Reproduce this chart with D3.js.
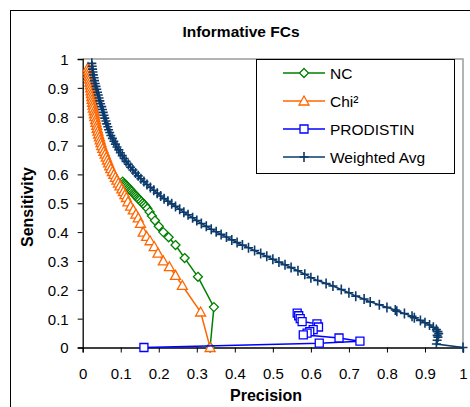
<!DOCTYPE html>
<html>
<head>
<meta charset="utf-8">
<script src="https://cdn.jsdelivr.net/npm/d3@7"></script>
<style>
  body { margin: 0; background: #fff; }
  text { font-family: Arial, "Liberation Sans", sans-serif; }
</style>
</head>
<body>
<svg id="chart" width="470" height="407"></svg>
<script>
// [precision, sensitivity]
const nc = [
  [0.105, 0.575], [0.108, 0.570], [0.111, 0.566], [0.114, 0.562], [0.117, 0.558],
  [0.120, 0.553], [0.123, 0.549], [0.126, 0.545], [0.129, 0.541], [0.132, 0.536],
  [0.135, 0.532], [0.138, 0.528], [0.141, 0.524], [0.144, 0.519], [0.147, 0.515],
  [0.150, 0.511], [0.154, 0.506], [0.158, 0.500], [0.162, 0.495], [0.166, 0.489],
  [0.170, 0.482], [0.176, 0.470], [0.182, 0.456], [0.190, 0.440], [0.200, 0.420],
  [0.212, 0.400], [0.226, 0.382], [0.244, 0.355], [0.268, 0.310], [0.303, 0.245],
  [0.345, 0.140], [0.335, 0.0]
];
const chi2 = [
  [0.014, 0.97], [0.015, 0.96], [0.016, 0.95], [0.017, 0.94], [0.018, 0.93],
  [0.019, 0.92], [0.020, 0.91], [0.021, 0.90], [0.022, 0.89], [0.023, 0.88],
  [0.024, 0.87], [0.025, 0.86], [0.026, 0.85], [0.027, 0.84], [0.028, 0.83],
  [0.030, 0.82], [0.031, 0.81], [0.032, 0.80], [0.034, 0.79], [0.035, 0.78],
  [0.037, 0.77], [0.038, 0.76], [0.040, 0.75], [0.042, 0.74], [0.044, 0.73],
  [0.046, 0.72], [0.048, 0.71], [0.050, 0.70], [0.053, 0.69], [0.056, 0.68],
  [0.059, 0.67], [0.062, 0.66], [0.065, 0.65], [0.068, 0.64], [0.071, 0.63],
  [0.074, 0.62], [0.078, 0.61], [0.082, 0.60], [0.086, 0.59], [0.090, 0.58],
  [0.094, 0.57], [0.098, 0.56], [0.103, 0.55], [0.107, 0.54], [0.111, 0.53],
  [0.115, 0.52], [0.119, 0.505], [0.126, 0.49], [0.133, 0.477], [0.140, 0.462],
  [0.146, 0.449], [0.152, 0.43], [0.159, 0.40], [0.168, 0.385], [0.177, 0.37],
  [0.188, 0.35], [0.198, 0.327], [0.212, 0.30], [0.228, 0.28], [0.244, 0.25],
  [0.262, 0.215], [0.310, 0.123], [0.335, 0.0]
];
const prodistin = [
  [0.564, 0.119], [0.568, 0.110], [0.572, 0.100], [0.577, 0.090], [0.616, 0.082],
  [0.620, 0.071], [0.606, 0.062], [0.597, 0.055], [0.590, 0.050], [0.580, 0.044],
  [0.674, 0.033], [0.729, 0.022], [0.622, 0.015], [0.161, 0.0]
];
const weightedAvg = [
  [0.024, 0.985], [0.025, 0.975], [0.026, 0.965], [0.027, 0.955], [0.028, 0.945],
  [0.030, 0.935], [0.031, 0.925], [0.033, 0.915], [0.035, 0.905], [0.037, 0.895],
  [0.039, 0.885], [0.041, 0.875], [0.043, 0.865], [0.045, 0.855], [0.047, 0.845],
  [0.050, 0.835], [0.052, 0.825], [0.054, 0.815], [0.056, 0.805], [0.058, 0.795],
  [0.061, 0.785], [0.063, 0.775], [0.066, 0.765], [0.068, 0.755], [0.071, 0.745],
  [0.074, 0.735], [0.078, 0.725], [0.082, 0.715], [0.086, 0.705], [0.090, 0.695],
  [0.095, 0.685], [0.099, 0.675], [0.104, 0.665], [0.109, 0.655], [0.114, 0.645],
  [0.120, 0.635], [0.126, 0.625], [0.132, 0.615], [0.139, 0.605], [0.146, 0.595],
  [0.153, 0.585], [0.161, 0.575], [0.169, 0.565], [0.178, 0.555], [0.187, 0.545],
  [0.196, 0.535], [0.205, 0.525], [0.214, 0.516], [0.224, 0.507], [0.234, 0.498],
  [0.244, 0.489], [0.255, 0.479], [0.266, 0.469], [0.277, 0.460], [0.289, 0.450],
  [0.300, 0.440], [0.312, 0.430], [0.325, 0.420], [0.338, 0.410], [0.351, 0.401],
  [0.364, 0.392], [0.378, 0.383], [0.392, 0.373], [0.406, 0.364], [0.420, 0.355],
  [0.436, 0.346], [0.452, 0.336], [0.468, 0.326], [0.484, 0.316], [0.500, 0.306],
  [0.516, 0.296], [0.532, 0.287], [0.548, 0.277], [0.566, 0.266], [0.584, 0.254],
  [0.600, 0.242], [0.618, 0.232], [0.640, 0.222], [0.658, 0.213], [0.680, 0.201],
  [0.700, 0.190], [0.718, 0.178], [0.740, 0.168], [0.756, 0.158], [0.780, 0.148],
  [0.800, 0.139], [0.822, 0.130], [0.826, 0.126], [0.846, 0.118], [0.866, 0.108],
  [0.872, 0.103], [0.888, 0.094], [0.900, 0.086], [0.912, 0.078], [0.922, 0.070],
  [0.930, 0.062], [0.934, 0.055], [0.936, 0.048], [0.932, 0.042], [0.934, 0.036],
  [0.932, 0.025], [0.930, 0.012], [1.0, 0.0]
];
const xTicks = [0, 0.1, 0.2, 0.3, 0.4, 0.5, 0.6, 0.7, 0.8, 0.9, 1];
const yTicks = [0, 0.1, 0.2, 0.3, 0.4, 0.5, 0.6, 0.7, 0.8, 0.9, 1];

const series = [
  { name: 'NC', data: nc, color: '#008000', marker: 'diamond' },
  { name: 'Chi\u00b2', data: chi2, color: '#FF6600', marker: 'triangle' },
  { name: 'PRODISTIN', data: prodistin, color: '#0000FF', marker: 'square' },
  { name: 'Weighted Avg', data: weightedAvg, color: '#0B3A6B', marker: 'plus' }
];

const markerPath = {
  diamond: 'M0,-4.5L4.5,0L0,4.5L-4.5,0Z',
  triangle: 'M0,-5L5,4L-5,4Z',
  square: 'M-4,-4H4V4H-4Z',
  plus: 'M-4.5,0H4.5M0,-5V5'
};

const svg = d3.select('#chart');
const plotLeft = 82.7, plotRight = 463, plotTop = 59, plotBottom = 347.5;

const x = d3.scaleLinear().domain([0, 1]).range([plotLeft, plotRight]);
const y = d3.scaleLinear().domain([0, 1]).range([plotBottom, plotTop]);

// chart frame
svg.append('rect')
  .attr('x', 10.5).attr('y', 10.5)
  .attr('width', 480).attr('height', 420)
  .attr('fill', '#fff').attr('stroke', '#000');

// plot area border (gray top / right)
svg.append('path')
  .attr('d', `M${plotLeft},${plotTop}H${plotRight}V${plotBottom}`)
  .attr('fill', 'none').attr('stroke', '#9a9a9a').attr('stroke-width', 1.5);

svg.append('text')
  .attr('x', 241).attr('y', 37)
  .attr('text-anchor', 'middle')
  .style('font-size', '15.5px').style('font-weight', 'bold')
  .text('Informative FCs');

// axes
const xAxis = svg.append('g')
  .attr('transform', `translate(0,${plotBottom})`)
  .call(d3.axisBottom(x).tickValues(xTicks).tickSize(5).tickFormat(d3.format('')));
const yAxis = svg.append('g')
  .attr('transform', `translate(${plotLeft},0)`)
  .call(d3.axisLeft(y).tickValues(yTicks).tickSize(5).tickFormat(d3.format('')));
[xAxis, yAxis].forEach(function(g) {
  g.select('.domain').attr('stroke', '#000').attr('stroke-width', 1.3);
  g.selectAll('.tick line').attr('stroke', '#000');
  g.selectAll('.tick text')
    .attr('fill', '#000')
    .style('font-size', '15px')
    .style('font-family', 'Arial, "Liberation Sans", sans-serif');
});
xAxis.selectAll('.tick text').attr('y', 31).attr('dy', 0);
yAxis.selectAll('.tick text').attr('x', -14).attr('dy', '0.36em');

svg.append('text')
  .attr('x', 266).attr('y', 401)
  .attr('text-anchor', 'middle')
  .style('font-size', '16px').style('font-weight', 'bold')
  .text('Precision');
svg.append('text')
  .attr('transform', 'translate(33,207) rotate(-90)')
  .attr('text-anchor', 'middle')
  .style('font-size', '16px').style('font-weight', 'bold')
  .text('Sensitivity');

// series
const line = d3.line()
  .x(function(d) { return x(d[0]); })
  .y(function(d) { return y(d[1]); });

series.forEach(function(s) {
  const g = svg.append('g').attr('class', 'series');
  g.append('path')
    .attr('d', line(s.data))
    .attr('fill', 'none')
    .attr('stroke', s.color)
    .attr('stroke-width', 1.5);
  g.selectAll('.mark')
    .data(s.data)
    .enter()
    .append('path')
    .attr('class', 'mark')
    .attr('transform', function(d) { return `translate(${x(d[0])},${y(d[1])})`; })
    .attr('d', markerPath[s.marker])
    .attr('fill', s.marker === 'plus' ? 'none' : '#fff')
    .attr('stroke', s.color)
    .attr('stroke-width', s.marker === 'plus' ? 1.6 : 1.3);
});

// legend
const legend = svg.append('g');
legend.append('rect')
  .attr('x', 256.5).attr('y', 59.5)
  .attr('width', 198).attr('height', 114)
  .attr('fill', '#fff').attr('stroke', '#000');
series.forEach(function(s, i) {
  const ly = 73 + i * 28;
  legend.append('line')
    .attr('x1', 283).attr('x2', 325)
    .attr('y1', ly).attr('y2', ly)
    .attr('stroke', s.color).attr('stroke-width', 1.5);
  legend.append('path')
    .attr('transform', `translate(304,${ly})`)
    .attr('d', markerPath[s.marker])
    .attr('fill', s.marker === 'plus' ? 'none' : '#fff')
    .attr('stroke', s.color)
    .attr('stroke-width', s.marker === 'plus' ? 1.6 : 1.3);
  legend.append('text')
    .attr('x', 330).attr('y', ly + 5.5)
    .style('font-size', '15.5px')
    .text(s.name);
});
</script>
</body>
</html>
